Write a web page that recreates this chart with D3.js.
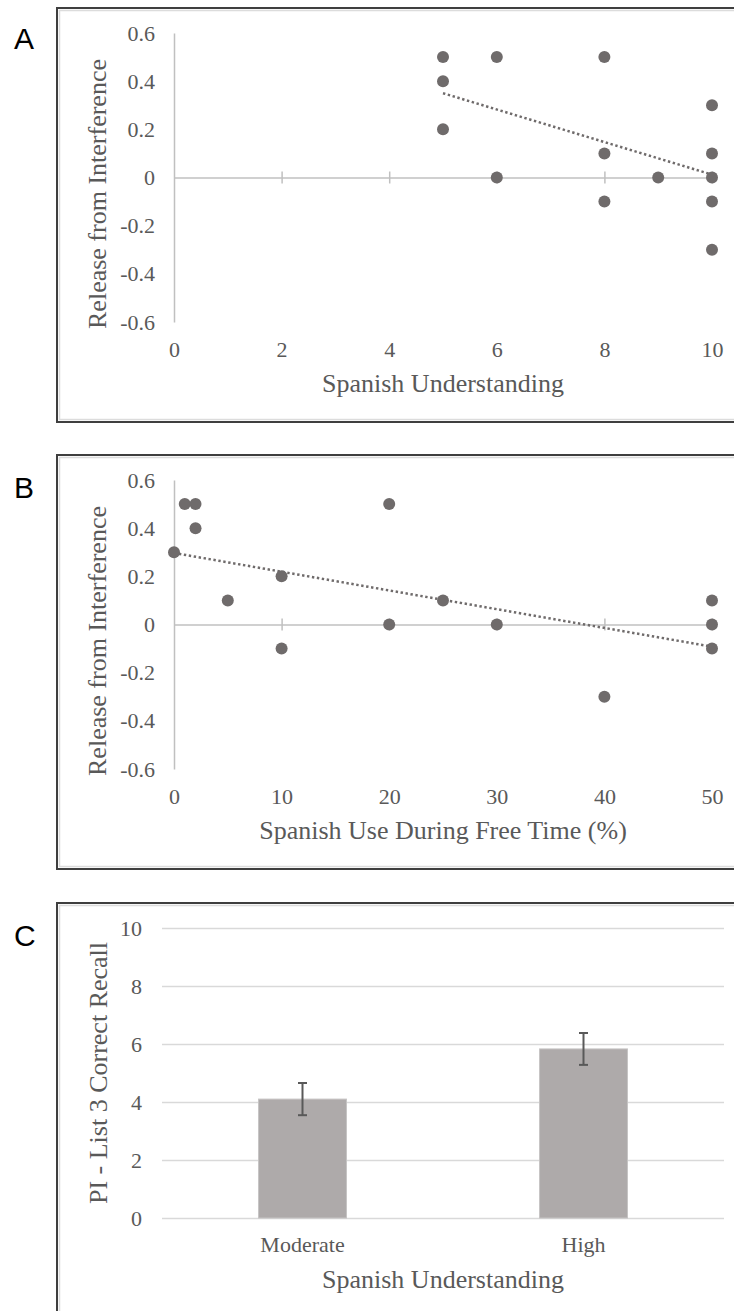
<!DOCTYPE html>
<html>
<head>
<meta charset="utf-8">
<script src="https://cdn.jsdelivr.net/npm/d3@7"></script>
<style>
  body { margin: 0; background: #fff; }
  svg { display: block; }
  text { font-family: "Liberation Serif", "Times New Roman", serif; fill: #595959; }
  .panel-letter { font-family: "Liberation Sans", Arial, sans-serif; fill: #000; font-size: 30px; }
</style>
</head>
<body>
<script>

// panel A: Spanish understanding vs release from interference
const understandingA = [5, 5, 5, 6, 6, 8, 8, 8, 9, 10, 10, 10, 10, 10];
const releaseA = [0.5, 0.4, 0.2, 0.5, 0, 0.5, 0.1, -0.1, 0, 0.3, 0.1, 0, -0.1, -0.3];
const trendAX = [5, 10];
const trendAY = [0.35, 0.012];
const xTicksA = [0, 2, 4, 6, 8, 10];

// panel B: Spanish use during free time vs release from interference
const freeTimeB = [0, 1, 2, 2, 5, 10, 10, 20, 20, 25, 30, 40, 50, 50, 50];
const releaseB = [0.3, 0.5, 0.5, 0.4, 0.1, 0.2, -0.1, 0.5, 0, 0.1, 0, -0.3, 0.1, 0, -0.1];
const trendBX = [0, 50];
const trendBY = [0.297, -0.092];
const xTicksB = [0, 10, 20, 30, 40, 50];

const yTicksAB = [-0.6, -0.4, -0.2, 0, 0.2, 0.4, 0.6];

// panel C: bar chart
const categoriesC = ['Moderate', 'High'];
const meansC = [4.1, 5.83];
const errorsC = [0.555, 0.55];
const yTicksC = [0, 2, 4, 6, 8, 10];

const W = 734, H = 1311;
const DOT = '#6f6b6b';
const AXIS = '#c0c0c0';
const SERIF = '"Liberation Serif", "Times New Roman", serif';

const svg = d3.select('body').append('svg')
    .attr('width', W)
    .attr('height', H);

svg.append('rect').attr('width', W).attr('height', H).attr('fill', '#fff');

const frame = (top, bottom) => {
    svg.append('rect')
        .attr('x', 57).attr('y', top)
        .attr('width', 700).attr('height', bottom - top)
        .attr('fill', 'none')
        .attr('stroke', '#3f3f3f')
        .attr('stroke-width', 2);
    svg.append('rect')
        .attr('x', 59.5).attr('y', top + 2.5)
        .attr('width', 700).attr('height', bottom - top - 5)
        .attr('fill', 'none')
        .attr('stroke', '#dcdcdc')
        .attr('stroke-width', 1.5);
};

const fmt = d => d === 0 ? '0' : d.toFixed(1);

// d3 axes put a sans font on the group, so reset it
const styleLabels = g => g.attr('font-family', SERIF)
    .selectAll('text')
    .style('font-size', '22px')
    .attr('fill', '#595959');

function scatterPanel(p) {
    const x = d3.scaleLinear().domain(p.xDomain).range([174, 712]);
    const y = d3.scaleLinear().domain([-0.6, 0.6]).range([p.bottom, p.top]);

    // vertical axis with labels
    const yAxis = d3.axisLeft(y)
        .tickValues(yTicksAB)
        .tickFormat(fmt)
        .tickSize(0)
        .tickSizeOuter(0)
        .tickPadding(19);
    const yg = svg.append('g').attr('transform', 'translate(174,0)').call(yAxis);
    yg.select('.domain').attr('stroke', AXIS).attr('stroke-width', 1.5);
    styleLabels(yg);

    // horizontal axis through zero, ticks crossing
    const xAxis = d3.axisBottom(x)
        .tickValues(p.xTicks.filter(d => d !== 0))
        .tickFormat('')
        .tickSizeOuter(0);
    const xg = svg.append('g').attr('transform', `translate(0,${y(0)})`).call(xAxis);
    xg.select('.domain').attr('stroke', AXIS).attr('stroke-width', 1.5);
    xg.selectAll('.tick line').attr('stroke', AXIS).attr('stroke-width', 1.5)
        .attr('y1', -6).attr('y2', 6);

    // tick labels along bottom
    const xl = svg.append('g').attr('transform', `translate(0,${p.tickBase})`)
        .call(d3.axisBottom(x).tickValues(p.xTicks).tickSize(0));
    xl.select('.domain').remove();
    xl.selectAll('text').attr('y', 0).attr('dy', 0);
    styleLabels(xl);

    // trend line
    const trend = d3.line().x(d => x(d[0])).y(d => y(d[1]));
    svg.append('path')
        .datum(d3.zip(p.trendX, p.trendY))
        .attr('d', trend)
        .attr('fill', 'none')
        .attr('stroke', DOT)
        .attr('stroke-width', 2.5)
        .attr('stroke-dasharray', '2.4,2.6');

    svg.append('g').selectAll('circle')
        .data(d3.zip(p.xs, p.ys))
        .enter().append('circle')
        .attr('cx', d => x(d[0]))
        .attr('cy', d => y(d[1]))
        .attr('r', 6)
        .attr('fill', DOT);

    svg.append('text')
        .attr('x', 443).attr('y', p.titleBase)
        .attr('text-anchor', 'middle')
        .style('font-size', '26px')
        .text(p.xLabel);

    svg.append('text')
        .attr('transform', `translate(106,${p.yLabelMid}) rotate(-90)`)
        .attr('text-anchor', 'middle')
        .style('font-size', '26px')
        .text('Release from Interference');

    svg.append('text').attr('class', 'panel-letter')
        .attr('x', 14).attr('y', p.letterBase)
        .text(p.letter);
}

frame(8, 422);
frame(455, 869);
frame(903, 1340);

scatterPanel({
    letter: 'A', letterBase: 49,
    xs: understandingA, ys: releaseA,
    trendX: trendAX, trendY: trendAY,
    xDomain: [0, 10], xTicks: xTicksA,
    top: 33, bottom: 322,
    tickBase: 357, titleBase: 392, yLabelMid: 194,
    xLabel: 'Spanish Understanding'
});

scatterPanel({
    letter: 'B', letterBase: 498,
    xs: freeTimeB, ys: releaseB,
    trendX: trendBX, trendY: trendBY,
    xDomain: [0, 50], xTicks: xTicksB,
    top: 480, bottom: 769,
    tickBase: 804, titleBase: 839, yLabelMid: 641,
    xLabel: 'Spanish Use During Free Time (%)'
});

// panel C
const xC = d3.scaleBand()
    .domain(categoriesC)
    .range([162, 724])
    .paddingInner(0.687)
    .paddingOuter(0.3435);
const yC = d3.scaleLinear().domain([0, 10]).range([1218, 928]);

const gridC = svg.append('g').attr('transform', 'translate(162,0)')
    .call(d3.axisLeft(yC).tickValues(yTicksC).tickSize(-562).tickPadding(20));
gridC.select('.domain').remove();
gridC.selectAll('.tick line').attr('stroke', '#d9d9d9').attr('stroke-width', 1.5);
styleLabels(gridC);

const barData = d3.zip(categoriesC, meansC, errorsC);

svg.append('g').selectAll('rect')
    .data(barData)
    .enter().append('rect')
    .attr('x', d => xC(d[0]))
    .attr('y', d => yC(d[1]))
    .attr('width', xC.bandwidth())
    .attr('height', d => yC(0) - yC(d[1]))
    .attr('fill', '#aeaaaa')
    .attr('stroke', '#c6c4c4')
    .attr('stroke-width', 1);

const errG = svg.append('g').attr('stroke', '#595959').attr('stroke-width', 2);
barData.forEach(d => {
    const cx = xC(d[0]) + xC.bandwidth() / 2;
    errG.append('line').attr('x1', cx).attr('x2', cx)
        .attr('y1', yC(d[1] + d[2])).attr('y2', yC(d[1] - d[2]));
    [d[1] + d[2], d[1] - d[2]].forEach(v => {
        errG.append('line').attr('x1', cx - 4.5).attr('x2', cx + 4.5)
            .attr('y1', yC(v)).attr('y2', yC(v));
    });
});

const catAxis = svg.append('g').attr('transform', 'translate(0,1252)')
    .call(d3.axisBottom(xC).tickSize(0));
catAxis.select('.domain').remove();
catAxis.selectAll('text').attr('y', 0).attr('dy', 0);
styleLabels(catAxis);

svg.append('text')
    .attr('x', 443).attr('y', 1288)
    .attr('text-anchor', 'middle')
    .style('font-size', '26px')
    .text('Spanish Understanding');

svg.append('text')
    .attr('transform', 'translate(107,1073) rotate(-90)')
    .attr('text-anchor', 'middle')
    .style('font-size', '26px')
    .text('PI - List 3 Correct Recall');

svg.append('text').attr('class', 'panel-letter')
    .attr('x', 14).attr('y', 946)
    .text('C');

</script>
</body>
</html>
